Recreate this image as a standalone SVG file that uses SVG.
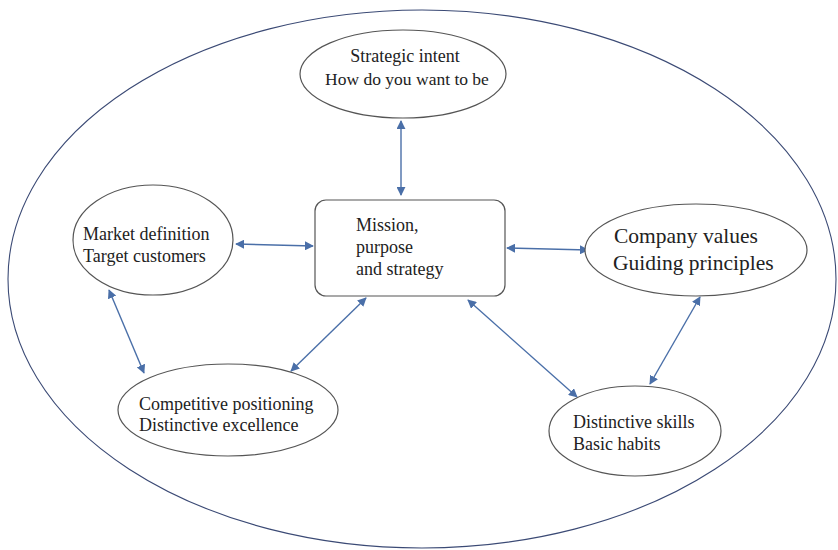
<svg xmlns="http://www.w3.org/2000/svg" width="838" height="550" viewBox="0 0 838 550">
<defs>
<marker id="ah" viewBox="0 0 10 10" refX="9" refY="5" markerWidth="9" markerHeight="9" markerUnits="userSpaceOnUse" orient="auto-start-reverse">
<path d="M0,0 L10,5 L0,10 z" fill="#4a6fa8"/>
</marker>
<style>
.outer{fill:none;stroke:#3b4a75;stroke-width:1.1}
.node{fill:#fff;stroke:#555;stroke-width:1.2}
.t{fill:#222}
.c{stroke:#4a6fa8;stroke-width:1.4;fill:none;marker-start:url(#ah);marker-end:url(#ah)}
</style>
</defs>
<rect width="838" height="550" fill="#fff"/>
<ellipse class="outer" cx="422" cy="279" rx="414" ry="269"/>
<g id="connectors">
<line class="c" x1="401" y1="121" x2="401" y2="195"/>
<line class="c" x1="236" y1="244" x2="313" y2="246"/>
<line class="c" x1="507" y1="248" x2="588" y2="250"/>
<line class="c" x1="109" y1="290" x2="144" y2="373"/>
<line class="c" x1="366" y1="298" x2="291" y2="371"/>
<line class="c" x1="468" y1="300" x2="577" y2="397"/>
<line class="c" x1="700" y1="297" x2="650" y2="384"/>
</g>
<g font-family="'Liberation Serif', 'Times New Roman', 'DejaVu Serif', serif" font-size="18">
<g id="strategic-intent">
<ellipse class="node" cx="403" cy="74" rx="103" ry="44"/>
<text class="t" x="405" y="62" text-anchor="middle">Strategic intent</text>
<text class="t" x="407" y="85" text-anchor="middle" font-size="17.5">How do you want to be</text>
</g>
<g id="mission">
<rect class="node" x="315" y="200" width="190" height="96" rx="11"/>
<text class="t" x="356" y="231">Mission,</text>
<text class="t" x="356" y="253">purpose</text>
<text class="t" x="356" y="275">and strategy</text>
</g>
<g id="market">
<ellipse class="node" cx="153" cy="240" rx="80" ry="55"/>
<text class="t" x="83" y="240">Market definition</text>
<text class="t" x="83" y="262">Target customers</text>
</g>
<g id="company-values">
<ellipse class="node" cx="696" cy="250" rx="111" ry="46"/>
<text class="t" x="614" y="243" font-size="21.5">Company values</text>
<text class="t" x="613" y="270" font-size="21.5">Guiding  principles</text>
</g>
<g id="competitive">
<ellipse class="node" cx="228" cy="410" rx="110" ry="46"/>
<text class="t" x="139" y="410">Competitive positioning</text>
<text class="t" x="139" y="431">Distinctive excellence</text>
</g>
<g id="distinctive-skills">
<ellipse class="node" cx="635" cy="431" rx="86" ry="45"/>
<text class="t" x="573" y="428">Distinctive skills</text>
<text class="t" x="573" y="450">Basic habits</text>
</g>
</g>
</svg>
